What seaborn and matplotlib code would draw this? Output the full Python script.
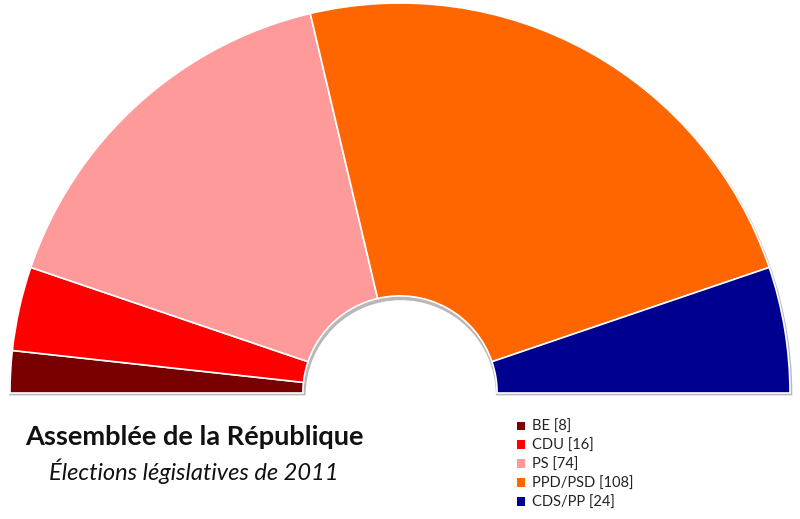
import matplotlib
matplotlib.use("Agg")
import matplotlib.pyplot as plt
import seaborn as sns

# --- DATA ---
parties = ["BE", "CDU", "PS", "PPD/PSD", "CDS/PP"]
seats = [8, 16, 74, 108, 24]
colors = ["#780000", "#FF0000", "#FF9A9A", "#FF6600", "#000090"]

title = "Assemblée de la République"
subtitle = "Élections législatives de 2011"

sns.set_theme(style="white")
plt.rcParams['font.family'] = ['Lato', 'DejaVu Sans']

fig = plt.figure(figsize=(8, 5.19), dpi=100)
ax = fig.add_axes([0, 0, 1, 1])

total = sum(seats)

# soft shadow: a grey half ring slightly below the real one
shadow, _ = ax.pie([total, total], colors=["#b8b8b8", "none"], startangle=180,
                   counterclock=False, radius=1.004, center=(0.002, -0.006),
                   wedgeprops=dict(width=0.760, linewidth=0))
shadow[-1].remove()

# half ring: the hidden wedge takes the bottom half
wedges, _ = ax.pie(
    seats + [total],
    colors=colors + ["none"],
    startangle=180,
    counterclock=False,
    radius=1.0,
    wedgeprops=dict(width=0.751, edgecolor="white", linewidth=1.2),
)
wedges[-1].remove()

# pixel layout: centre at (400, 393) from top, radius 390 px
r_px = 390.0
ax.set_xlim(-400 / r_px, 400 / r_px)
ax.set_ylim(-(519 - 393) / r_px, 393 / r_px)
ax.set_aspect("auto")
ax.axis("off")

fig.text(194 / 800, 1 - 437 / 519, title, ha="center", va="center",
         fontsize=19.5, fontweight="bold", color="#111111")
fig.text(194 / 800, 1 - 471 / 519, subtitle, ha="center", va="center",
         fontsize=17, fontstyle="italic", color="#111111")

labels = [f"{p} [{s}]" for p, s in zip(parties, seats)]
leg = fig.legend(wedges[:-1], labels, loc="upper left",
                 bbox_to_anchor=(517 / 800, 1 - 420 / 519),
                 frameon=False, fontsize=10.5, handlelength=0.55, handleheight=0.55,
                 handletextpad=0.45, labelspacing=0.33, borderpad=0, borderaxespad=0)
for h in leg.legend_handles:
    h.set_edgecolor("none")
for t in leg.get_texts():
    t.set_color("#222222")

fig.savefig("out.png", dpi=100, facecolor="white")
